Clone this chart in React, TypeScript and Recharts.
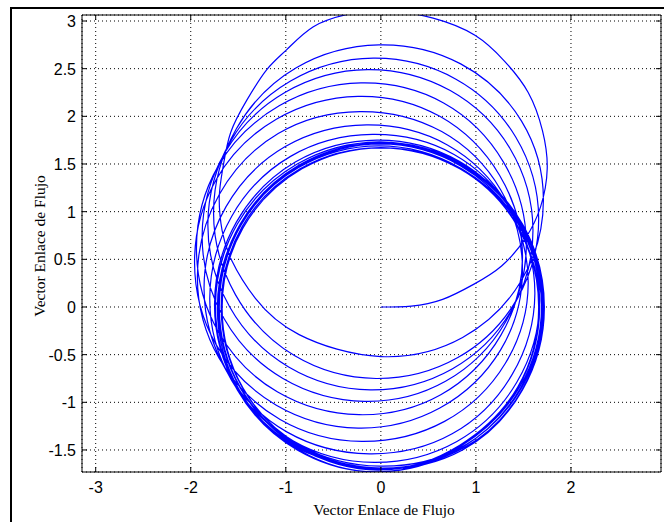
import React from 'react';
import { LineChart, Line, XAxis, YAxis, CartesianGrid } from 'recharts';

const xTicks = [-3, -2, -1, 0, 1, 2];
const yTicks = [-1.5, -1, -0.5, 0, 0.5, 1, 1.5, 2, 2.5, 3];
const xDomain: [number, number] = [-3.144, 2.947];
const yDomain: [number, number] = [-1.731, 3.063];

const startLoop: [number, number][] = [
  [0, 0], [0.32, 0.01], [0.65, 0.08], [0.98, 0.24], [1.27, 0.43], [1.52, 0.72], [1.68, 1.05],
  [1.75, 1.45], [1.70, 1.85], [1.55, 2.25], [1.30, 2.58], [0.99, 2.85], [0.55, 3.03], [0.05, 3.11],
  [-0.35, 3.07], [-0.71, 2.94], [-0.99, 2.70], [-1.20, 2.49], [-1.41, 2.17], [-1.58, 1.83],
  [-1.66, 1.47], [-1.70, 1.15], [-1.67, 0.80], [-1.57, 0.49], [-1.32, 0.09], [-0.86, -0.29], [0, -0.52],
];
const loop2: [number, number][] = [
  [0.86, -0.32], [1.48, 0.28], [1.71, 1.12], [1.48, 1.95], [0.84, 2.55], [-0.02, 2.75],
  [-0.89, 2.51], [-1.52, 1.87], [-1.76, 1.0], [-1.53, 0.13], [-0.91, -0.51], [-0.05, -0.75],
];
const loop3: [number, number][] = [
  [0.81, -0.53], [1.43, 0.08], [1.66, 0.93], [1.42, 1.78], [0.79, 2.39], [-0.08, 2.61],
  [-0.95, 2.37], [-1.58, 1.74], [-1.82, 0.87], [-1.59, 0.0], [-0.97, -0.63], [-0.11, -0.87],
];
const loop4: [number, number][] = [
  [0.75, -0.65], [1.37, -0.04], [1.60, 0.81], [1.36, 1.66], [0.73, 2.27], [-0.14, 2.49],
  [-1.01, 2.25], [-1.64, 1.62], [-1.88, 0.75], [-1.65, -0.12], [-1.03, -0.75], [-0.17, -0.99],
];
const loop5: [number, number][] = [
  [0.68, -0.78], [1.31, -0.16], [1.53, 0.68], [1.29, 1.52], [0.66, 2.14], [-0.21, 2.35],
  [-1.07, 2.11], [-1.71, 1.48], [-1.94, 0.61], [-1.71, -0.26], [-1.09, -0.89], [-0.23, -1.13],
];
const loop6: [number, number][] = [
  [0.63, -0.92], [1.26, -0.30], [1.49, 0.54], [1.25, 1.38], [0.62, 2.0], [-0.24, 2.21],
  [-1.10, 1.97], [-1.73, 1.34], [-1.96, 0.47], [-1.73, -0.40], [-1.10, -1.03], [-0.24, -1.27],
];
const loop7: [number, number][] = [
  [0.62, -1.06], [1.26, -0.45], [1.49, 0.39], [1.26, 1.23], [0.64, 1.84], [-0.22, 2.05],
  [-1.08, 1.82], [-1.70, 1.18], [-1.93, 0.32], [-1.70, -0.54], [-1.06, -1.18], [-0.20, -1.41],
];
const loop8: [number, number][] = [
  [0.67, -1.20], [1.31, -0.59], [1.55, 0.25], [1.32, 1.09], [0.70, 1.70], [-0.15, 1.91],
  [-1.01, 1.68], [-1.63, 1.05], [-1.86, 0.19], [-1.62, -0.68], [-0.99, -1.31], [-0.12, -1.54],
];
const loop9: [number, number][] = [
  [0.75, -1.33], [1.38, -0.71], [1.62, 0.14], [1.39, 0.98], [0.77, 1.60], [-0.09, 1.81],
  [-0.95, 1.58], [-1.57, 0.95], [-1.80, 0.09], [-1.57, -0.77], [-0.93, -1.40], [-0.07, -1.63],
];
const loop10: [number, number][] = [
  [0.80, -1.41], [1.43, -0.79], [1.67, 0.06], [1.44, 0.91], [0.82, 1.53], [-0.04, 1.75],
  [-0.90, 1.52], [-1.52, 0.89], [-1.75, 0.03], [-1.52, -0.84], [-0.88, -1.47], [-0.02, -1.70],
];
const ring1: [number, number][] = [
  [0.86, -1.50], [1.49, -0.87], [1.72, 0], [1.49, 0.87], [0.86, 1.50], [-0.01, 1.73],
  [-0.88, 1.50], [-1.51, 0.87], [-1.74, 0], [-1.51, -0.87], [-0.88, -1.50], [-0.01, -1.73],
];
const ring2: [number, number][] = [
  [0.86, -1.47], [1.48, -0.85], [1.71, 0.01], [1.48, 0.87], [0.86, 1.49], [0, 1.72],
  [-0.86, 1.49], [-1.48, 0.87], [-1.71, 0.01], [-1.48, -0.85], [-0.86, -1.47], [0, -1.70],
];
const ring3: [number, number][] = [
  [0.83, -1.46], [1.44, -0.85], [1.67, 0], [1.44, 0.85], [0.83, 1.46], [-0.02, 1.69],
  [-0.87, 1.46], [-1.48, 0.85], [-1.71, 0], [-1.48, -0.85], [-0.87, -1.46], [-0.02, -1.69],
];
const ring4: [number, number][] = [
  [0.86, -1.50], [1.49, -0.87], [1.72, -0.01], [1.49, 0.85], [0.86, 1.48], [0, 1.71],
  [-0.86, 1.48], [-1.49, 0.85], [-1.72, -0.01], [-1.49, -0.87], [-0.86, -1.50], [0, -1.73],
];
const ring5: [number, number][] = [
  [0.84, -1.46], [1.46, -0.84], [1.69, 0.01], [1.46, 0.86], [0.84, 1.48], [-0.01, 1.71],
  [-0.86, 1.48], [-1.48, 0.86], [-1.71, 0.01], [-1.48, -0.84], [-0.86, -1.46], [-0.01, -1.69],
];
const ring6: [number, number][] = [
  [0.87, -1.48], [1.49, -0.86], [1.72, 0], [1.49, 0.86], [0.87, 1.48], [0.01, 1.71],
  [-0.85, 1.48], [-1.47, 0.86], [-1.70, 0], [-1.47, -0.86], [-0.85, -1.48], [0.01, -1.71],
];
const ring7: [number, number][] = [
  [0.83, -1.45], [1.44, -0.84], [1.66, 0], [1.44, 0.84], [0.83, 1.45], [-0.01, 1.67],
  [-0.85, 1.45], [-1.46, 0.84], [-1.68, 0], [-1.46, -0.84], [-0.85, -1.45], [-0.01, -1.67],
];
const ring8: [number, number][] = [
  [0.85, -1.47], [1.47, -0.85], [1.69, -0.01], [1.47, 0.83], [0.85, 1.45], [0.01, 1.67],
  [-0.83, 1.45], [-1.45, 0.83], [-1.67, -0.01], [-1.45, -0.85], [-0.83, -1.47], [0.01, -1.69],
];
const ring9: [number, number][] = [
  [0.84, -1.48], [1.47, -0.85], [1.70, 0.01], [1.47, 0.87], [0.84, 1.50], [-0.02, 1.73],
  [-0.88, 1.50], [-1.51, 0.87], [-1.74, 0.01], [-1.51, -0.85], [-0.88, -1.48], [-0.02, -1.71],
];

const loops = [
  startLoop, loop2, loop3, loop4, loop5, loop6, loop7, loop8, loop9, loop10,
  ring1, ring2, ring3, ring4, ring5, ring6, ring7, ring8, ring9,
];
const data = loops.flat().map(([x, y]) => ({ x, y }));

const tickFont = "'Liberation Sans', Arial, sans-serif";

const BottomTick = (p: any) => (
  <g>
    <line x1={p.x} y1={p.y} x2={p.x} y2={p.y - 5} stroke="#000" />
    <text x={p.x} y={p.y + 21} textAnchor="middle" fontFamily={tickFont} fontSize={16} fill="#000">
      {String(p.payload.value)}
    </text>
  </g>
);
const TopTick = (p: any) => (
  <line x1={p.x} y1={p.y} x2={p.x} y2={p.y + 5} stroke="#000" />
);
const LeftTick = (p: any) => (
  <g>
    <line x1={p.x} y1={p.y} x2={p.x + 5} y2={p.y} stroke="#000" />
    <text x={p.x - 6} y={p.y + 6} textAnchor="end" fontFamily={tickFont} fontSize={16} fill="#000">
      {String(p.payload.value)}
    </text>
  </g>
);
const RightTick = (p: any) => (
  <line x1={p.x} y1={p.y} x2={p.x - 5} y2={p.y} stroke="#000" />
);

const titleStyle: React.CSSProperties = {
  fontFamily: "'Liberation Serif', 'Times New Roman', serif",
  fontSize: 15.5,
  color: '#000',
  lineHeight: '18px',
  whiteSpace: 'nowrap',
};

export default function App() {
  return (
    <div style={{ position: 'absolute', left: 0, top: 0, width: 664, height: 522, background: '#fff', overflow: 'hidden' }}>
      <div
        style={{
          position: 'absolute', left: 10, top: 7, width: 660, height: 520,
          borderLeft: '2px solid #000', borderTop: '2px solid #000',
        }}
      />
      <div style={{ position: 'absolute', left: 0, top: 0 }}>
        <LineChart width={664} height={522} data={data} margin={{ top: 0, right: 0, bottom: 0, left: 0 }}>
          <CartesianGrid stroke="#000" strokeDasharray="1 3" />
          <XAxis
            dataKey="x" type="number" domain={xDomain} ticks={xTicks} allowDataOverflow
            height={50} tickSize={0} tickMargin={0} tickLine={false}
            axisLine={{ stroke: '#000' }} tick={(p: any) => <BottomTick {...p} />} interval={0}
          />
          <XAxis
            xAxisId="top" orientation="top" dataKey="x" type="number" domain={xDomain} ticks={xTicks}
            allowDataOverflow height={15} tickSize={0} tickMargin={0} tickLine={false}
            axisLine={{ stroke: '#000' }} tick={(p: any) => <TopTick {...p} />} interval={0}
          />
          <YAxis
            dataKey="y" type="number" domain={yDomain} ticks={yTicks} allowDataOverflow
            width={82} tickSize={0} tickMargin={0} tickLine={false}
            axisLine={{ stroke: '#000' }} tick={(p: any) => <LeftTick {...p} />} interval={0}
          />
          <YAxis
            yAxisId="right" orientation="right" dataKey="y" type="number" domain={yDomain} ticks={yTicks}
            allowDataOverflow width={3} tickSize={0} tickMargin={0} tickLine={false}
            axisLine={{ stroke: '#000' }} tick={(p: any) => <RightTick {...p} />} interval={0}
          />
          <Line
            dataKey="y" type="natural" stroke="#0000ff" strokeWidth={1.2} dot={false}
            isAnimationActive={false} activeDot={false}
          />
        </LineChart>
      </div>
      <div style={{ ...titleStyle, position: 'absolute', left: 284, top: 501, width: 200, textAlign: 'center' }}>
        Vector Enlace de Flujo
      </div>
      <div
        style={{
          ...titleStyle, position: 'absolute', left: 40, top: 246, width: 200, marginLeft: -100, marginTop: -9,
          textAlign: 'center', transform: 'rotate(-90deg)',
        }}
      >
        Vector Enlace de Flujo
      </div>
    </div>
  );
}
